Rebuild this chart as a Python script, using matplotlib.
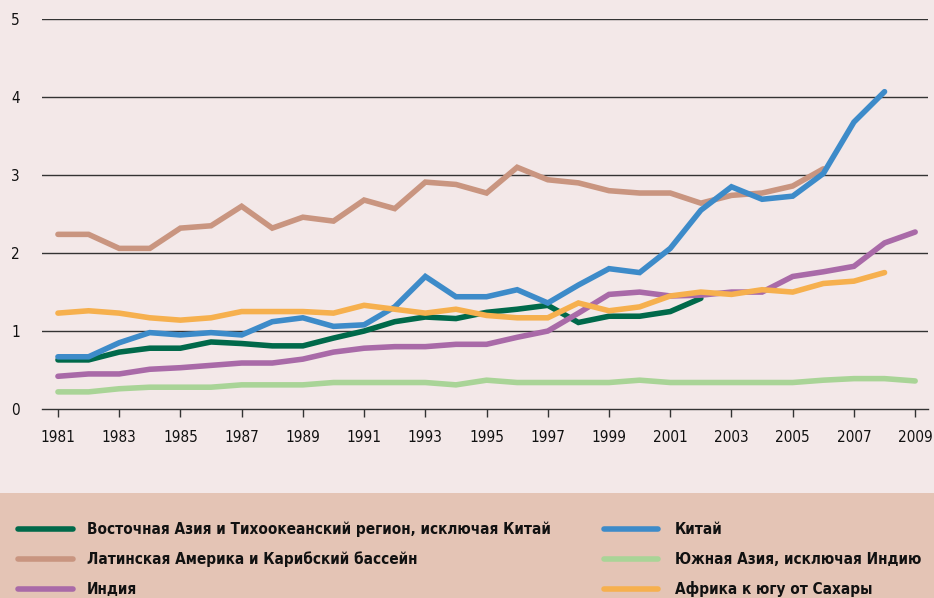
import matplotlib
matplotlib.use("Agg")
import matplotlib.pyplot as plt
from matplotlib.lines import Line2D
from matplotlib.patches import Rectangle
from matplotlib import font_manager

years = list(range(1981, 2010))

east_asia = [0.63, 0.63, 0.73, 0.78, 0.78, 0.86, 0.84, 0.81, 0.81, 0.91, 1.00, 1.12, 1.18, 1.16,
             1.24, 1.28, 1.33, 1.11, 1.19, 1.19, 1.25, 1.42]
latin_am = [2.24, 2.24, 2.06, 2.06, 2.32, 2.35, 2.60, 2.32, 2.46, 2.41, 2.68, 2.57, 2.91, 2.88,
            2.77, 3.10, 2.94, 2.90, 2.80, 2.77, 2.77, 2.64, 2.74, 2.77, 2.86, 3.08]
india = [0.42, 0.45, 0.45, 0.51, 0.53, 0.56, 0.59, 0.59, 0.64, 0.73, 0.78, 0.80, 0.80, 0.83,
         0.83, 0.92, 1.00, 1.23, 1.47, 1.50, 1.45, 1.46, 1.50, 1.50, 1.70, 1.76, 1.83, 2.13, 2.27]
china = [0.67, 0.67, 0.85, 0.98, 0.95, 0.98, 0.95, 1.12, 1.17, 1.06, 1.08, 1.31, 1.70, 1.44,
         1.44, 1.53, 1.36, 1.59, 1.80, 1.75, 2.06, 2.55, 2.85, 2.69, 2.73, 3.02, 3.68, 4.07]
south_asia = [0.22, 0.22, 0.26, 0.28, 0.28, 0.28, 0.31, 0.31, 0.31, 0.34, 0.34, 0.34, 0.34, 0.31,
              0.37, 0.34, 0.34, 0.34, 0.34, 0.37, 0.34, 0.34, 0.34, 0.34, 0.34, 0.37, 0.39, 0.39, 0.36]
africa = [1.23, 1.26, 1.23, 1.17, 1.14, 1.17, 1.25, 1.25, 1.25, 1.23, 1.33, 1.28, 1.23, 1.28,
          1.20, 1.17, 1.17, 1.36, 1.26, 1.31, 1.45, 1.50, 1.47, 1.53, 1.50, 1.61, 1.64, 1.75]

labels = ["Восточная Азия и Тихоокеанский регион, исключая Китай",
          "Латинская Америка и Карибский бассейн",
          "Индия",
          "Китай",
          "Южная Азия, исключая Индию",
          "Африка к югу от Сахары"]
series = [east_asia, latin_am, india, china, south_asia, africa]
colors = ["#00694a", "#c99580", "#a96aa8", "#3d8bc9", "#a9d497", "#f6b04e"]
xticks = list(range(1981, 2010, 2))
yticks = [0, 1, 2, 3, 4, 5]

avail = {f.name for f in font_manager.fontManager.ttflist}
if "Liberation Sans Narrow" in avail:
    FAM, STRETCH = "Liberation Sans Narrow", "normal"
else:
    FAM, STRETCH = "DejaVu Sans", "condensed"
plt.rcParams['font.family'] = [FAM, 'DejaVu Sans']
plt.rcParams['font.stretch'] = STRETCH

BG = "#f3e8e8"
fig = plt.figure(figsize=(9.34, 5.98), dpi=100, facecolor=BG)
ax = fig.add_axes([0.045, 0.316, 0.9486, 0.652])
ax.set_facecolor(BG)

# legend band
fig.patches.append(Rectangle((0, 0), 1, 105/598, transform=fig.transFigure,
                             facecolor="#e4c4b5", edgecolor="none", zorder=0))

for vals, c in zip(series, colors):
    ax.plot(years[:len(vals)], vals, color=c, lw=4, solid_capstyle='round',
            solid_joinstyle='miter', zorder=3)

ax.set_xlim(1980.48, 2009.42)
ax.set_ylim(0, 5)
ax.set_yticks(yticks)
ax.set_xticks(xticks)
ax.set_xticklabels([str(x) for x in xticks], fontsize=11, stretch=STRETCH, color="#111111")
ax.set_yticklabels([str(y) for y in yticks], fontsize=11, stretch=STRETCH, color="#111111")
for y in yticks[1:]:
    ax.axhline(y, color="#333333", lw=1.0, zorder=1)
for s in ["top", "right", "left"]:
    ax.spines[s].set_visible(False)
ax.spines["bottom"].set_color("#333333")
ax.spines["bottom"].set_linewidth(1.0)
ax.tick_params(axis='x', direction='out', length=6, width=1, color="#333333", pad=9)
ax.tick_params(axis='y', length=0, pad=16)

# manual legend
rows = [529, 559, 589]
cols = [(18, 73, 87), (604, 658, 675)]
W, H = 934, 598
for i, (lab, c) in enumerate(zip(labels, colors)):
    col = cols[i // 3]
    yy = 1 - rows[i % 3] / H
    fig.add_artist(Line2D([col[0] / W, col[1] / W], [yy, yy], transform=fig.transFigure,
                          color=c, lw=4, solid_capstyle='round'))
    fig.text(col[2] / W, yy, lab, fontsize=11, fontweight='bold', stretch=STRETCH,
             va='center', ha='left', color="#111111")

fig.savefig("out.png", dpi=100, facecolor=BG)
